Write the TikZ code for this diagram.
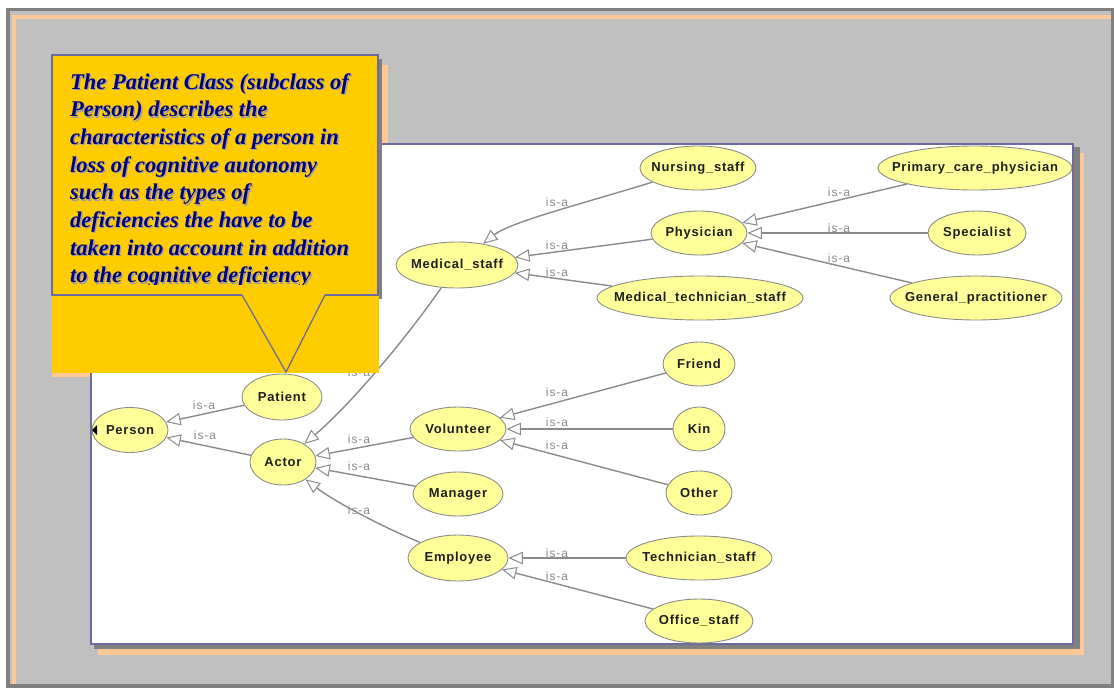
\documentclass[tikz,border=0pt]{standalone}
\usepackage{fontspec}
\setmainfont{Liberation Serif}
\newfontfamily\clsfont{Liberation Sans}[LetterSpace=6]
\newfontfamily\lblfont{Liberation Sans}[LetterSpace=8]
\usetikzlibrary{shapes.geometric,arrows.meta}

\definecolor{framegray}{HTML}{808080}
\definecolor{backgray}{HTML}{C0C0C0}
\definecolor{peach}{HTML}{FFC896}
\definecolor{panelline}{HTML}{6B6BA0}
\definecolor{calloutfill}{HTML}{FFCC00}
\definecolor{navytext}{HTML}{000080}
\definecolor{textshade}{HTML}{9C9CA8}
\definecolor{clsfill}{HTML}{FFFF99}
\definecolor{clsline}{HTML}{8C8C8C}
\definecolor{edgegray}{HTML}{8A8A8A}

% zero-width label box so the ellipse keeps its given size
\newcommand\cl[1]{\makebox[0pt]{#1}}
\newcommand\callouttext{The Patient Class (subclass of\\
Person) describes the\\
characteristics of a person in\\
loss of cognitive autonomy\\
such as the types of\\
deficiencies the have to be\\
taken into account in addition\\
to the cognitive deficiency}

\begin{document}
\begin{tikzpicture}[x=1pt,y=-1pt,
  cls/.style={ellipse, draw=clsline, line width=0.9pt, fill=clsfill, inner sep=0pt,
    font=\clsfont\bfseries\fontsize{13}{15}\selectfont, text=black!88},
  sz/.style 2 args={minimum width=#1pt, minimum height=#2pt},
  isa/.style={draw=edgegray, line width=1.4pt,
    -{Triangle[length=14.5pt, width=12.5pt, fill=white, line width=1pt]}},
  lbl/.style={font=\lblfont\fontsize{12}{14}\selectfont, text=edgegray, inner sep=0pt},
  ctext/.style={anchor=north west, align=left, inner sep=0pt,
    font=\bfseries\itshape\fontsize{22.5}{27.7}\selectfont}
]
\useasboundingbox (0,0) rectangle (1114,688);

% outer frame
\fill[white] (0,0) rectangle (1114,688);
\fill[framegray] (6,8) rectangle (1114,688);
\fill[backgray] (10,11) rectangle (1111,684);
\fill[peach] (12,15) rectangle (1111,19);
\fill[peach] (12,15) rectangle (16,684);

% callout back shadow
\fill[peach] (52,65) rectangle (388,377);

% diagram panel with its shadows
\fill[peach] (98,153) rectangle (1084,655);
\fill[framegray] (94,147) rectangle (1080,649);
\filldraw[fill=white, draw=panelline, line width=2pt] (91,144) rectangle (1073,644);

% classes
\node[cls, sz={76}{45}] (per) at (130,430) {\cl{Person}};
\node[cls, sz={80}{46}] (pat) at (282,397) {\cl{Patient}};
\node[cls, sz={66}{46}] (act) at (283,462) {\cl{Actor}};
\node[cls, sz={122}{46}] (ms) at (457,265) {\cl{Medical\_staff}};
\node[cls, sz={116}{44}] (ns) at (698,168) {\cl{Nursing\_staff}};
\node[cls, sz={96}{44}] (phy) at (699,233) {\cl{Physician}};
\node[cls, sz={206}{44}] (mts) at (700,298) {\cl{Medical\_technician\_staff}};
\node[cls, sz={194}{44}] (pcp) at (975,168) {\cl{Primary\_care\_physician}};
\node[cls, sz={98}{44}] (spe) at (977,233) {\cl{Specialist}};
\node[cls, sz={172}{44}] (gp) at (976,298) {\cl{General\_practitioner}};
\node[cls, sz={72}{44}] (fri) at (699,364) {\cl{Friend}};
\node[cls, sz={96}{44}] (vol) at (458,429) {\cl{Volunteer}};
\node[cls, sz={52}{44}] (kin) at (699,429) {\cl{Kin}};
\node[cls, sz={90}{44}] (man) at (458,494) {\cl{Manager}};
\node[cls, sz={66}{44}] (oth) at (699,493) {\cl{Other}};
\node[cls, sz={100}{46}] (emp) at (458,558) {\cl{Employee}};
\node[cls, sz={146}{44}] (tec) at (699,558) {\cl{Technician\_staff}};
\node[cls, sz={108}{44}] (off) at (699,621) {\cl{Office\_staff}};

% collapsed-branch marker on Person
\fill[black] (92,430) -- (97,425) -- (97,435) -- cycle;

% is-a links
\draw[isa] (pat) -- (per);
\draw[isa] (act) -- (per);
\draw[isa] (ms) .. controls (405,340) and (350,405) .. (act);
\draw[isa] (vol) -- (act);
\draw[isa] (man) -- (act);
\draw[isa] (emp) .. controls (385,528) and (335,502) .. (act);
\draw[isa] (ns) .. controls (585,203) and (510,222) .. (ms);
\draw[isa] (phy) -- (ms);
\draw[isa] (mts) -- (ms);
\draw[isa] (pcp) -- (phy);
\draw[isa] (spe) -- (phy);
\draw[isa] (gp) -- (phy);
\draw[isa] (fri) -- (vol);
\draw[isa] (kin) -- (vol);
\draw[isa] (oth) -- (vol);
\draw[isa] (tec) -- (emp);
\draw[isa] (off) -- (emp);

% link labels
\node[lbl] (l1) at (204,405) {is-a};
\node[lbl] (l2) at (205,435) {is-a};
\node[lbl] (l3) at (359,372) {is-a};
\node[lbl] (l4) at (359,439) {is-a};
\node[lbl] (l5) at (359,466) {is-a};
\node[lbl] (l6) at (359,510) {is-a};
\node[lbl] (l7) at (557,202) {is-a};
\node[lbl] (l8) at (557,245) {is-a};
\node[lbl] (l9) at (557,272) {is-a};
\node[lbl] (l10) at (839,192) {is-a};
\node[lbl] (l11) at (839,228) {is-a};
\node[lbl] (l12) at (839,258) {is-a};
\node[lbl] (l13) at (557,392) {is-a};
\node[lbl] (l14) at (557,422) {is-a};
\node[lbl] (l15) at (557,445) {is-a};
\node[lbl] (l16) at (557,553) {is-a};
\node[lbl] (l17) at (557,576) {is-a};

% callout
\fill[framegray] (56,59) rectangle (382,299);
\fill[calloutfill] (52,55) rectangle (379,373);
\draw[panelline, line width=1.3pt, line join=miter]
  (242,295) -- (52,295) -- (52,55) -- (378,55) -- (378,295) -- (325,295);
\draw[panelline, line width=1.3pt, line join=miter]
  (242,295) -- (286,372) -- (325,295);
\begin{scope}
  \clip (52,55) rectangle (378,284);
  \node[ctext, text=textshade] (cshade) at (71.3,74.3) {\callouttext};
  \node[ctext, text=navytext] (ctext) at (70,73) {\callouttext};
\end{scope}
\end{tikzpicture}
\end{document}
